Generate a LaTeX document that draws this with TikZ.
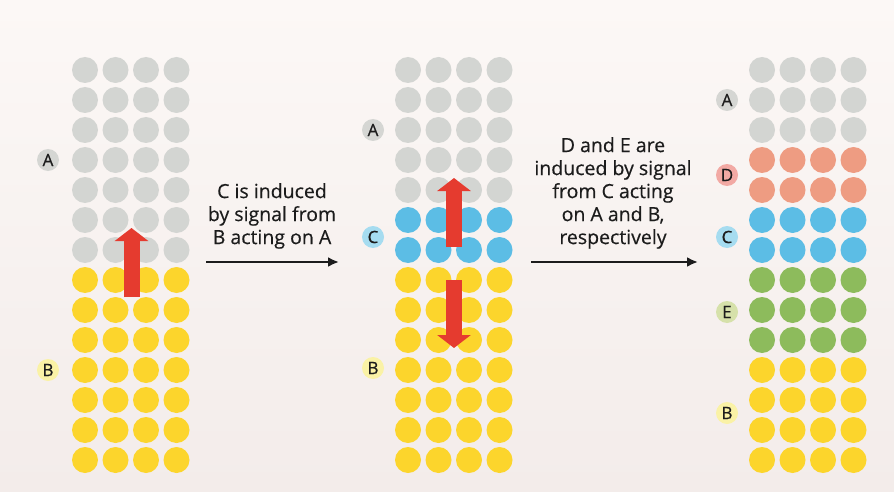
\documentclass[tikz,border=0pt]{standalone}
\usepackage{fontspec}
\setmainfont[FakeBold=0.4]{Open Sans}
\usetikzlibrary{positioning, arrows.meta}

\definecolor{bgtop}{HTML}{FCF8F6}
\definecolor{bgbot}{HTML}{F3ECEA}
\definecolor{cellA}{HTML}{D3D5D2}
\definecolor{cellB}{HTML}{FCD52C}
\definecolor{cellC}{HTML}{5CBDE5}
\definecolor{cellD}{HTML}{EE9C82}
\definecolor{cellE}{HTML}{8DBB5C}
\definecolor{tagA}{HTML}{D5D6D3}
\definecolor{tagB}{HTML}{FAF2A6}
\definecolor{tagC}{HTML}{A6DCF0}
\definecolor{tagD}{HTML}{F2A9A4}
\definecolor{tagE}{HTML}{D6E1AA}
\definecolor{sigred}{HTML}{E53B2F}
\definecolor{ink}{HTML}{1C1C1C}

\begin{document}
\begin{tikzpicture}[x=1pt, y=-1pt,
    cell/.style={circle, inner sep=0pt, minimum size=26pt},
    tag/.style={circle, inner sep=0pt, minimum size=22pt, text=ink,
        font=\fontsize{17}{17}\selectfont},
    note/.style={align=center, text=ink, font=\fontsize{19.5}{23}\selectfont},
    arrow/.style={-{Latex[length=11pt, width=10pt]}, line width=2.2pt, draw=ink},
    signal/.style={draw=sigred, line width=16pt, -{Triangle[length=13pt, width=33pt]}}
]

% Background
\shade[top color=bgtop, bottom color=bgbot] (0,0) rectangle (894,492);

% Cell columns, one colour per row
\foreach \g/\x/\rows in {1/85/{A,A,A,A,A,A,A,B,B,B,B,B,B,B},
                          2/408/{A,A,A,A,A,C,C,B,B,B,B,B,B,B},
                          3/762/{A,A,A,D,D,C,C,E,E,E,B,B,B,B}} {
  \foreach \k [count=\r] in \rows {
    \foreach \c in {1,...,4} {
      \node[cell, fill=cell\k] (g\g-\r-\c) at ({\x+30.5*(\c-1)}, {70+30*(\r-1)}) {};
    }
  }
}

% Region labels
\node[tag, fill=tagA] (a1) at (48,160) {A};
\node[tag, fill=tagB] (b1) at (48,370) {B};
\node[tag, fill=tagA] (a2) at (373,130) {A};
\node[tag, fill=tagC] (c2) at (373,237) {C};
\node[tag, fill=tagB] (b2) at (373,368) {B};
\node[tag, fill=tagA] (a3) at (727,100) {A};
\node[tag, fill=tagD] (d3) at (727,175) {D};
\node[tag, fill=tagC] (c3) at (727,237) {C};
\node[tag, fill=tagE] (e3) at (727,312) {E};
\node[tag, fill=tagB] (b3) at (727,413) {B};

% Signals
\coordinate (s1a) at (131.5,297);
\coordinate (s1b) at (131.5,228);
\coordinate (s2a) at (454,247);
\coordinate (s2b) at (454,178);
\coordinate (s3a) at (454,280);
\coordinate (s3b) at (454,348);
\draw[signal] (s1a) -- (s1b);
\draw[signal] (s2a) -- (s2b);
\draw[signal] (s3a) -- (s3b);

% Steps
\node[note] (step1) at (272,216) {C is induced\\by signal from\\B acting on A};
\node[note] (step2) at (613,193) {D and E are\\induced by signal\\from C acting\\on A and B,\\respectively};

\coordinate (p1) at (206,262);
\coordinate (q1) at (339,262);
\coordinate (p2) at (531,262);
\coordinate (q2) at (698,262);
\draw[arrow] (p1) -- (q1);
\draw[arrow] (p2) -- (q2);

\end{tikzpicture}
\end{document}
